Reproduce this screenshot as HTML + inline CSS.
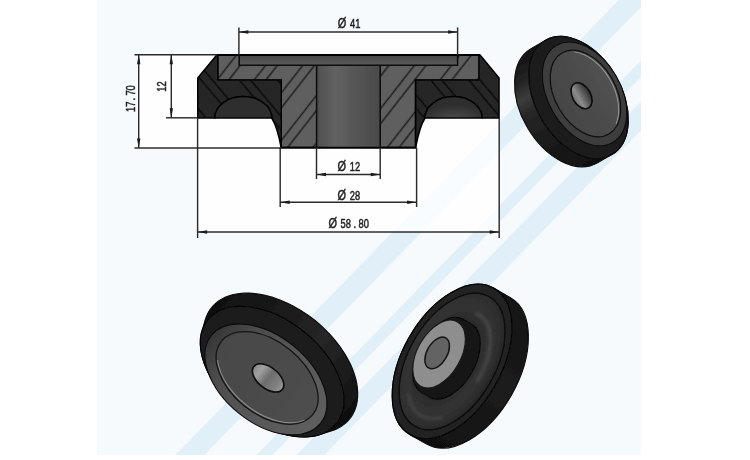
<!DOCTYPE html>
<html><head><meta charset="utf-8"><title>Drawing</title><style>html,body{margin:0;padding:0;background:#fff}svg{display:block}text{font-family:"Liberation Sans",sans-serif}</style></head><body>
<svg width="750" height="460" viewBox="0 0 750 460">
<defs>
<clipPath id="panel"><rect x="97" y="0" width="544" height="455"/></clipPath>
<pattern id="hm" patternUnits="userSpaceOnUse" width="20" height="29.3" patternTransform="rotate(-52)"><rect width="20" height="29.3" fill="#5e5e5e"/><path d="M-1,15.2 L21,15.2 M-1,24.5 L21,24.5" stroke="#1e1e1e" stroke-width="1.4"/></pattern>
<pattern id="hr" patternUnits="userSpaceOnUse" width="20" height="29.3" patternTransform="rotate(50)"><rect width="20" height="29.3" fill="#262626"/><path d="M-1,6 L21,6 M-1,14.5 L21,14.5" stroke="#0e0e0e" stroke-width="1.8"/></pattern>
<linearGradient id="bore" x1="0" x2="1" y1="0" y2="0"><stop offset="0" stop-color="#4e4e4e"/><stop offset="0.3" stop-color="#626262"/><stop offset="0.65" stop-color="#545454"/><stop offset="1" stop-color="#4a4a4a"/></linearGradient>
<linearGradient id="rec" x1="0" x2="0" y1="0" y2="1"><stop offset="0" stop-color="#474747"/><stop offset="1" stop-color="#5a5a5a"/></linearGradient>
<radialGradient id="arch" cx="0.5" cy="1" r="0.6"><stop offset="0" stop-color="#4a4a4a"/><stop offset="1" stop-color="#2e2e2e"/></radialGradient>
<linearGradient id="d1side" x1="0" y1="0" x2="1" y2="0"><stop offset="0" stop-color="#121212"/><stop offset="0.18" stop-color="#242424"/><stop offset="0.3" stop-color="#3c3c3c"/><stop offset="0.42" stop-color="#262626"/><stop offset="0.7" stop-color="#1a1a1a"/><stop offset="1" stop-color="#101010"/></linearGradient>
<linearGradient id="d1face" x1="0" y1="1" x2="0" y2="0"><stop offset="0" stop-color="#454545"/><stop offset="0.5" stop-color="#4b4b4b"/><stop offset="1" stop-color="#525252"/></linearGradient>
<linearGradient id="d1hole" x1="0" y1="0" x2="0" y2="1"><stop offset="0" stop-color="#2c2c2c"/><stop offset="0.35" stop-color="#5a5a5a"/><stop offset="0.7" stop-color="#8c8c8c"/><stop offset="1" stop-color="#6a6a6a"/></linearGradient>
<linearGradient id="d2side" x1="0" y1="0" x2="1" y2="0"><stop offset="0" stop-color="#101010"/><stop offset="0.35" stop-color="#1c1c1c"/><stop offset="0.6" stop-color="#262626"/><stop offset="0.85" stop-color="#1a1a1a"/><stop offset="1" stop-color="#0e0e0e"/></linearGradient>
<linearGradient id="d2face" x1="0" y1="0" x2="1" y2="0"><stop offset="0" stop-color="#474747"/><stop offset="1" stop-color="#4e4e4e"/></linearGradient>
<linearGradient id="d2ring" x1="0" y1="0" x2="1" y2="0"><stop offset="0" stop-color="#363636"/><stop offset="0.22" stop-color="#4c4c4c"/><stop offset="0.6" stop-color="#585858"/><stop offset="1" stop-color="#5e5e5e"/></linearGradient>
<linearGradient id="d2hole" x1="0" y1="0" x2="1" y2="0"><stop offset="0" stop-color="#8a8a8a"/><stop offset="0.22" stop-color="#a0a0a0"/><stop offset="0.5" stop-color="#6c6c6c"/><stop offset="0.8" stop-color="#808080"/><stop offset="1" stop-color="#9a9a9a"/></linearGradient>
<linearGradient id="d3side" x1="0" y1="0" x2="1" y2="0"><stop offset="0" stop-color="#101010"/><stop offset="0.5" stop-color="#1c1c1c"/><stop offset="1" stop-color="#121212"/></linearGradient>
<radialGradient id="d3dish" cx="0.5" cy="0.45" r="0.55"><stop offset="0" stop-color="#242424"/><stop offset="0.5" stop-color="#2a2a2a"/><stop offset="0.7" stop-color="#323232"/><stop offset="0.88" stop-color="#2e2e2e"/><stop offset="1" stop-color="#242424"/></radialGradient>
<filter id="b2" x="-30%" y="-30%" width="160%" height="160%"><feGaussianBlur stdDeviation="1.6"/></filter>
<filter id="soft" x="-5%" y="-5%" width="110%" height="110%"><feGaussianBlur stdDeviation="0.45"/></filter>
</defs>
<rect width="750" height="460" fill="#ffffff"/>
<rect x="97" y="0" width="544" height="455" fill="#f7fafd"/>
<g clip-path="url(#panel)" fill="#e0eff8">
<polygon points="619,0 648,0 204.4,455 175.4,455"/>
<polygon points="700,0 716,0 272.4,455 256.4,455"/>
<polygon points="740,0 768,0 324.4,455 296.4,455"/>
</g>
<g fill="#ffffff" fill-opacity="0.8">
<rect x="238.9" y="32" width="218.7" height="24"/>
<polygon points="138.7,54.8 217,54.8 197.6,78 197.6,118 272,118 281,148 138.7,148"/>
<polygon points="197.6,148 281,148 416,148 425,118 499.2,118 499.2,232 197.6,232"/>
</g>
<g filter="url(#soft)">
<path d="M217.8,55.0 L479.0,55.0 L479.0,80.0 L415.6,80.0 L415.6,147.6 L281.2,147.6 L281.2,80.0 L217.8,80.0 Z" fill="url(#hm)" stroke="#050505" stroke-width="1.6"/>
<rect x="239.2" y="55.0" width="218.4" height="10.3" fill="url(#rec)"/>
<rect x="316.6" y="65.3" width="63.6" height="82.3" fill="url(#bore)"/>
<path d="M239.2,55.0 L239.2,65.3 L457.6,65.3 L457.6,55.0 M316.6,65.3 L316.6,147.6 M380.2,65.3 L380.2,147.6" fill="none" stroke="#080808" stroke-width="1.5"/>
<path d="M197.8,118.0 L197.8,78 L216.8,55.0 L217.8,55.0 L217.8,80.0 L281.2,80.0 L281.2,147.6 Q277.5,127 271.8,118.0 A28.5,21.4 0 0 0 214.8,118.0 Z" fill="url(#hr)" stroke="#050505" stroke-width="1.6" stroke-linejoin="round"/>
<path d="M271.8,118.0 A28.5,21.4 0 0 0 214.8,118.0 Z" fill="#2f2f2f" stroke="#050505" stroke-width="1.5"/>
<path d="M499.0,118.0 L499.0,78 L480.0,55.0 L479.0,55.0 L479.0,80.0 L415.6,80.0 L415.6,147.6 Q419.3,127 425.0,118.0 A28.5,21.4 0 0 1 482.0,118.0 Z" fill="url(#hr)" stroke="#050505" stroke-width="1.6" stroke-linejoin="round"/>
<path d="M425.0,118.0 A28.5,21.4 0 0 1 482.0,118.0 Z" fill="url(#arch)" stroke="#050505" stroke-width="1.5"/>
<path d="M216.8,55.0 L480.0,55.0" stroke="#050505" stroke-width="2" fill="none"/>
<path d="M281.2,147.6 L415.6,147.6" stroke="#050505" stroke-width="1.8" fill="none"/>
<path d="M238.9,27.4 L238.9,55.0" stroke="#2c2c2c" stroke-width="1.45" fill="none"/>
<path d="M457.6,27.4 L457.6,55.0" stroke="#2c2c2c" stroke-width="1.45" fill="none"/>
<path d="M238.9,32.0 L457.6,32.0" stroke="#2c2c2c" stroke-width="1.45" fill="none"/>
<polygon points="238.9,32.0 248.4,30.3 248.4,33.7" fill="#1a1a1a"/>
<polygon points="457.6,32.0 448.1,33.7 448.1,30.3" fill="#1a1a1a"/>
<path d="M134.5,54.8 L217.0,54.8" stroke="#2c2c2c" stroke-width="1.45" fill="none"/>
<path d="M134.5,148.0 L281.0,148.0" stroke="#2c2c2c" stroke-width="1.45" fill="none"/>
<path d="M138.7,54.8 L138.7,148.0" stroke="#2c2c2c" stroke-width="1.45" fill="none"/>
<polygon points="138.7,54.8 140.4,64.3 137.0,64.3" fill="#1a1a1a"/>
<polygon points="138.7,148.0 137.0,138.5 140.4,138.5" fill="#1a1a1a"/>
<path d="M166.0,117.8 L197.8,117.8" stroke="#2c2c2c" stroke-width="1.45" fill="none"/>
<path d="M171.3,54.8 L171.3,117.8" stroke="#2c2c2c" stroke-width="1.45" fill="none"/>
<polygon points="171.3,54.8 173.0,64.3 169.6,64.3" fill="#1a1a1a"/>
<polygon points="171.3,117.8 169.6,108.3 173.0,108.3" fill="#1a1a1a"/>
<path d="M316.5,147.6 L316.5,179.0" stroke="#2c2c2c" stroke-width="1.45" fill="none"/>
<path d="M380.2,147.6 L380.2,179.0" stroke="#2c2c2c" stroke-width="1.45" fill="none"/>
<path d="M316.5,174.5 L380.2,174.5" stroke="#2c2c2c" stroke-width="1.45" fill="none"/>
<polygon points="316.5,174.5 326.0,172.8 326.0,176.2" fill="#1a1a1a"/>
<polygon points="380.2,174.5 370.7,176.2 370.7,172.8" fill="#1a1a1a"/>
<path d="M280.2,147.6 L280.2,207.0" stroke="#2c2c2c" stroke-width="1.45" fill="none"/>
<path d="M416.6,147.6 L416.6,207.0" stroke="#2c2c2c" stroke-width="1.45" fill="none"/>
<path d="M280.2,202.3 L416.6,202.3" stroke="#2c2c2c" stroke-width="1.45" fill="none"/>
<polygon points="280.2,202.3 289.7,200.6 289.7,204.0" fill="#1a1a1a"/>
<polygon points="416.6,202.3 407.1,204.0 407.1,200.6" fill="#1a1a1a"/>
<path d="M197.6,118.0 L197.6,238.0" stroke="#2c2c2c" stroke-width="1.45" fill="none"/>
<path d="M499.2,118.0 L499.2,238.0" stroke="#2c2c2c" stroke-width="1.45" fill="none"/>
<path d="M197.6,232.0 L499.2,232.0" stroke="#2c2c2c" stroke-width="1.45" fill="none"/>
<polygon points="197.6,232.0 207.1,230.3 207.1,233.7" fill="#1a1a1a"/>
<polygon points="499.2,232.0 489.7,233.7 489.7,230.3" fill="#1a1a1a"/>
<text transform="translate(337.8,28.3) scale(0.74,1)" font-size="12.6" fill="#222" stroke="#222" stroke-width="0.5"><tspan x="0.00" font-size="14.8">Ø</tspan><tspan x="16.49" font-size="12.6">41</tspan></text>
<text transform="translate(337.6,171.3) scale(0.74,1)" font-size="12.6" fill="#222" stroke="#222" stroke-width="0.5"><tspan x="0.00" font-size="14.8">Ø</tspan><tspan x="16.35" font-size="12.6">12</tspan></text>
<text transform="translate(337.6,199.5) scale(0.74,1)" font-size="12.6" fill="#222" stroke="#222" stroke-width="0.5"><tspan x="0.00" font-size="14.8">Ø</tspan><tspan x="16.35" font-size="12.6">28</tspan></text>
<text transform="translate(328.4,228.3) scale(0.74,1)" font-size="12.6" fill="#222" stroke="#222" stroke-width="0.5"><tspan x="0.00" font-size="14.8">Ø</tspan><tspan x="16.35" font-size="12.6">58</tspan><tspan x="33.78" font-size="12.6">.</tspan><tspan x="40.81" font-size="12.6">80</tspan></text>
<text transform="rotate(-90 130.3 98.7) translate(117.00000000000001,103.10000000000001) scale(0.74,1)" font-size="12.6" fill="#222" stroke="#222" stroke-width="0.5"><tspan x="0.00" font-size="12.6">17</tspan><tspan x="15.54" font-size="12.6">.</tspan><tspan x="22.16" font-size="12.6">70</tspan></text>
<text transform="rotate(-90 161.4 86.7) translate(156.3,91.10000000000001) scale(0.74,1)" font-size="12.6" fill="#222" stroke="#222" stroke-width="0.5"><tspan x="0.00" font-size="12.6">12</tspan></text>
<g transform="translate(578.5,97.5) rotate(59.8)">
<path d="M-66.0,0 A66.0,42.768 0 0 1 66.0,0 L66.0,16.5 A66.0,42.768 0 0 1 -66.0,16.5 Z" fill="url(#d1side)" stroke="#080808" stroke-width="1.2"/>
<ellipse cx="0" cy="0" rx="66.00" ry="42.77" fill="#1f1f1f" stroke="#070707" stroke-width="1.3" />
<ellipse cx="0" cy="-7" rx="56.10" ry="36.35" fill="#3e3e3e" stroke="#0c0c0c" stroke-width="1.2" />
<ellipse cx="0" cy="-8" rx="46.86" ry="30.37" fill="url(#d1face)" stroke="#101010" stroke-width="1.3" />
<path d="M-41.6,-20.9 A46.2,29.9 0 0 1 41.6,-20.9" fill="none" stroke="#9a9a9a" stroke-width="0.9" transform="translate(0,1.6)"/>
<ellipse cx="0" cy="-3.5" rx="14.00" ry="9.07" fill="url(#d1hole)" stroke="#080808" stroke-width="1.6" />
</g>
<g transform="translate(272.2,371.6) rotate(38.9)">
<path d="M-87.3,-11.8 L-87.2,-14.7 L-86.8,-17.5 L-86.2,-20.4 L-85.4,-23.2 L-84.3,-26.0 L-83.0,-28.7 L-81.4,-31.4 L-79.6,-34.1 L-77.7,-36.7 L-75.4,-39.2 L-73.0,-41.6 L-70.4,-44.0 L-67.6,-46.3 L-64.5,-48.4 L-61.4,-50.5 L-58.0,-52.5 L-54.5,-54.4 L-50.8,-56.1 L-47.0,-57.7 L-43.0,-59.2 L-38.9,-60.6 L-34.7,-61.8 L-30.4,-62.9 L-26.1,-63.9 L-21.6,-64.7 L-17.1,-65.4 L-12.6,-65.9 L-8.0,-66.3 L-3.3,-66.5 L1.3,-66.6 L5.9,-66.5 L10.6,-66.3 L15.2,-65.9 L19.7,-65.4 L24.2,-64.7 L28.7,-63.9 L33.0,-62.9 L37.3,-61.8 L41.5,-60.6 L45.6,-59.2 L49.6,-57.7 L53.4,-56.1 L57.1,-54.4 L60.6,-52.5 L64.0,-50.5 L67.2,-48.4 L70.2,-46.3 L73.0,-44.0 L75.6,-41.6 L78.0,-39.2 L80.2,-36.7 L82.2,-34.1 L84.0,-31.4 L85.6,-28.7 L86.9,-26.0 L88.0,-23.2 L88.8,-20.4 L89.4,-17.5 L89.8,-14.7 L89.9,-11.8 L89.8,-8.9 L89.4,-6.1 L88.8,-3.2 L88.0,-0.4 L86.9,2.4 L85.6,5.1 L84.0,7.8 L76.2,19.5 L74.5,21.9 L72.5,24.3 L70.3,26.6 L68.0,28.9 L65.5,31.0 L62.7,33.1 L59.8,35.1 L56.8,37.0 L53.6,38.8 L50.2,40.5 L46.7,42.0 L43.1,43.5 L39.4,44.8 L35.5,46.0 L31.6,47.1 L27.5,48.1 L23.4,48.9 L19.3,49.6 L15.0,50.1 L10.8,50.5 L6.5,50.8 L2.2,51.0 L-2.2,51.0 L-6.5,50.8 L-10.8,50.5 L-15.0,50.1 L-19.3,49.6 L-23.4,48.9 L-27.5,48.1 L-31.6,47.1 L-35.5,46.0 L-39.4,44.8 L-43.1,43.5 L-46.7,42.0 L-50.2,40.5 L-53.6,38.8 L-56.8,37.0 L-59.8,35.1 L-62.7,33.1 L-65.5,31.0 L-68.0,28.9 L-70.3,26.6 L-72.5,24.3 L-74.5,21.9 L-76.2,19.5 L-77.8,17.0 L-79.1,14.5 L-84.3,2.4 L-85.4,-0.4 L-86.2,-3.2 L-86.8,-6.1 L-87.2,-8.9Z" fill="url(#d2side)" stroke="#080808" stroke-width="1.2"/>
<ellipse cx="0" cy="0" rx="82.50" ry="50.98" fill="#1e1e1e" stroke="#060606" stroke-width="1.3" />
<ellipse cx="0" cy="10" rx="70.12" ry="43.34" fill="url(#d2ring)" stroke="#0c0c0c" stroke-width="1.2" />
<ellipse cx="0" cy="8.1" rx="58.57" ry="36.20" fill="url(#d2face)" stroke="#151515" stroke-width="1.3" />
<path d="M-49.8,27.1 A58.6,36.2 0 0 0 55.6,19.3" fill="none" stroke="#8e8e8e" stroke-width="1" transform="translate(0,-1.8)"/>
<ellipse cx="0.8" cy="7.5" rx="18.30" ry="10.52" fill="url(#d2hole)" stroke="#0a0a0a" stroke-width="1.6" />
</g>
<g transform="translate(452.1,361.5) rotate(-60.2)">
<path d="M-84.3,0 A84.3,49.231199999999994 0 0 1 84.3,0 L84.3,18.9 A84.3,49.231199999999994 0 0 1 -84.3,18.9 Z" fill="url(#d3side)" stroke="#080808" stroke-width="1.2"/>
<ellipse cx="0" cy="0" rx="84.30" ry="49.23" fill="#202020" stroke="#060606" stroke-width="1.3" />
<ellipse cx="0" cy="0" rx="74.52" ry="43.52" fill="url(#d3dish)" stroke="#080808" stroke-width="1.2" />
<path d="M53.7,-2.7 A54.0,31.5 0 0 1 -4.7,31.4" fill="none" stroke="#4a4a4a" stroke-width="3" stroke-linecap="round" filter="url(#b2)"/>
<path d="M-54.0,18.2 A62.4,36.4 0 0 1 -51.1,-20.9" fill="none" stroke="#444" stroke-width="3" stroke-linecap="round" filter="url(#b2)"/>
<path d="M-42.15,-9 A42.15,24.615599999999997 0 0 1 42.15,-9 L42.15,0 A42.15,24.615599999999997 0 0 1 -42.15,0 Z" fill="#141414" stroke="#050505" stroke-width="1" transform="translate(0,-2)"/>
<ellipse cx="0" cy="-15" rx="37.09" ry="21.66" fill="#8e8e8e" stroke="#1a1a1a" stroke-width="1.2" />
<ellipse cx="0" cy="-17.2" rx="17.28" ry="10.09" fill="#646464" stroke="#141414" stroke-width="1.5" />
</g>
</g>
</svg>
</body></html>
